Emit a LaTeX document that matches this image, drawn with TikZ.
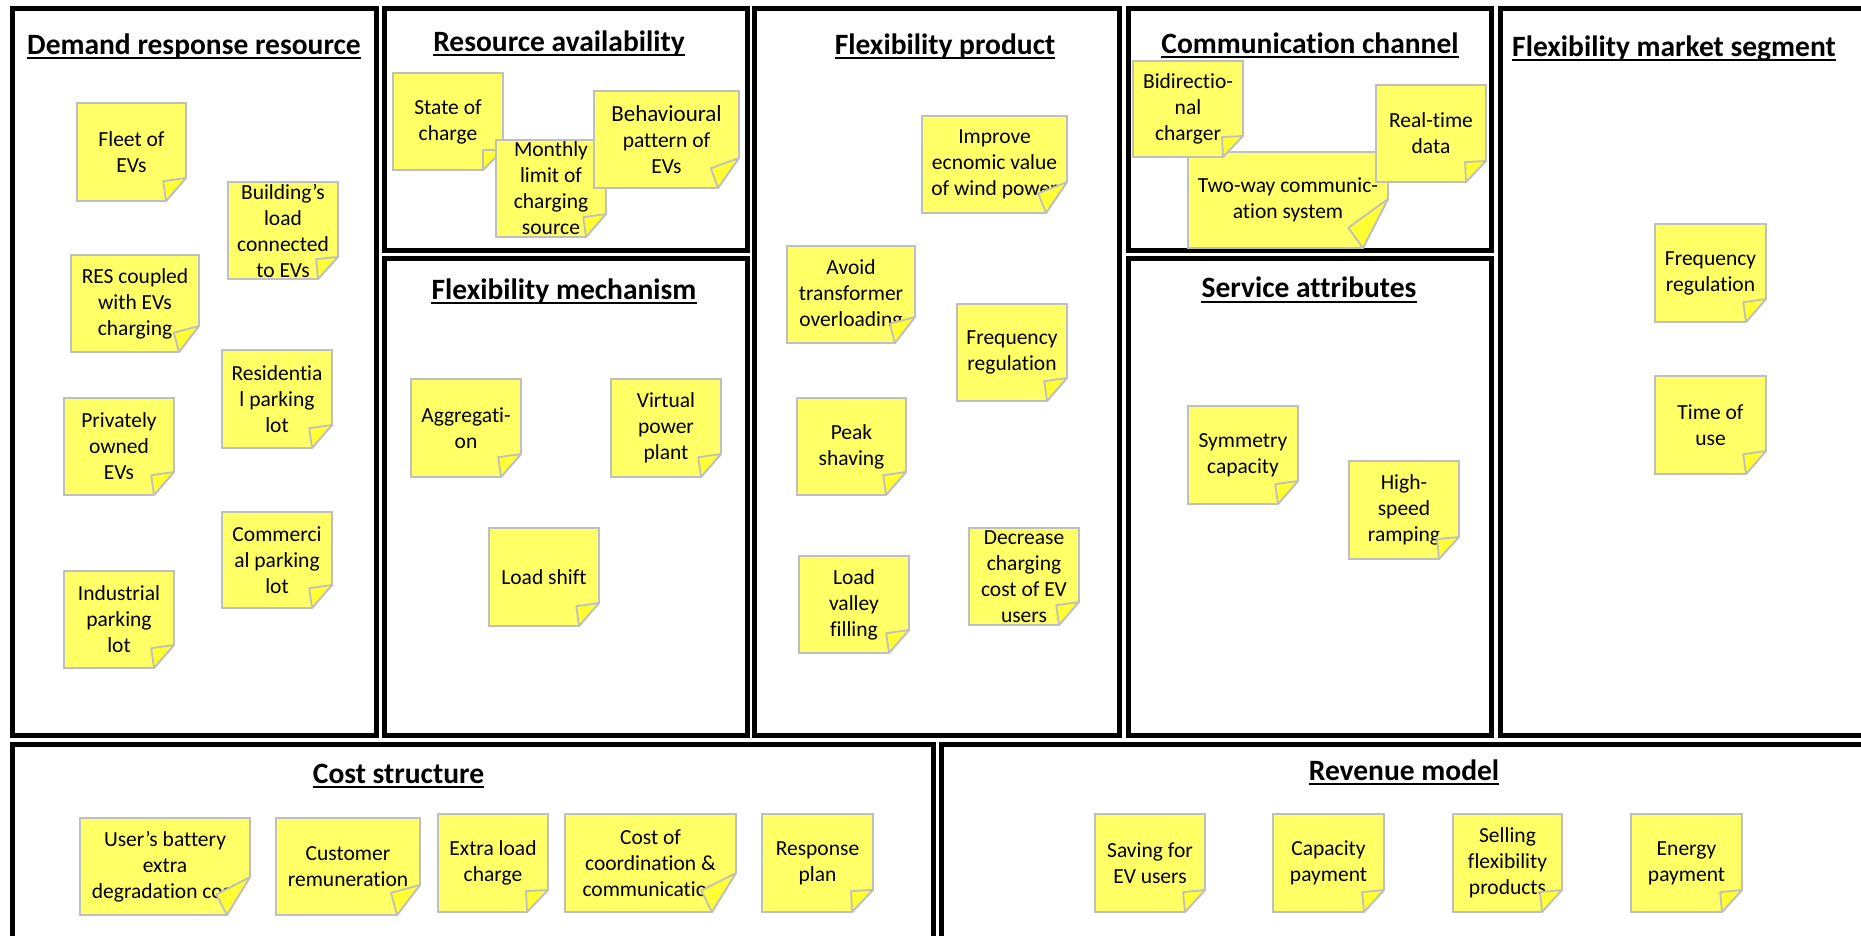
\documentclass[tikz,border=0pt]{standalone}
\usepackage{fontspec}
\setmainfont{Carlito}[Ligatures={TeX,NoCommon}]
\usepackage{tikz}
\usetikzlibrary{calc}
\definecolor{notey}{RGB}{255,255,102}
\definecolor{foldy}{RGB}{255,255,51}
\definecolor{notegray}{RGB}{191,191,191}
\newcommand{\notefont}{\fontsize{21.5}{26}\selectfont}
\newcommand{\titlefont}{\fontsize{29.5}{35}\selectfont\bfseries}
\tikzset{
  panel/.style={draw=black, line width=5pt},
  heading/.style={anchor=base, inner sep=0pt, font=\titlefont},
  uline/.style={line width=2pt},
  notebody/.style={fill=notey, draw=notegray, line width=1.8pt},
  notefold/.style={fill=foldy, draw=notegray, line width=1.8pt, line join=round},
  note/.style={align=center, inner sep=0pt, font=\notefont},
}
\def\postitfold#1/#2\relax{\def\fx{#1}\def\fy{#2}}
% sticky note: [fold x/y]{name}{left}{top}{width}{height}{text}
\newcommand{\postit}[7][20/23]{%
  \postitfold#1\relax
  \filldraw[notebody] (#3,#4) -- ++(#5,0) -- ++(0,#6-\fy) -- ++(-\fx,\fy) -- ++(\fx-#5,0) -- cycle;
  \node[note] (#2) at (#3+#5/2,#4+#6/2) {#7};
  \coordinate (#2-a) at (#3+#5,#4+#6-\fy);
  \coordinate (#2-b) at (#3+#5-\fx,#4+#6);
  \coordinate (#2-c) at (#3+#5,#4+#6);
  \coordinate (#2-p) at ($(#2-a)!(#2-c)!(#2-b)$);
  \filldraw[notefold] (#2-a) -- (#2-b) -- ($(#2-c)!2!(#2-p)$) -- cycle;
}

\begin{document}
\begin{tikzpicture}[x=1pt, y=-1pt]
  \useasboundingbox (0,0) rectangle (1861,936);
  \clip (0,0) rectangle (1861,936);

  % panels
  \draw[panel] (12.5,8.5) rectangle (376.5,735.5);
  \draw[panel] (384,8.5) rectangle (747.5,250.5);
  \draw[panel] (384,258.5) rectangle (747.5,735.5);
  \draw[panel] (754.5,8.5) rectangle (1119,735.5);
  \draw[panel] (1128,8.5) rectangle (1491,250.5);
  \draw[panel] (1128,258.5) rectangle (1491,735.5);
  \draw[panel] (1500.5,8.5) rectangle (1900,735.5);
  \draw[panel] (12.5,744.5) rectangle (933,1000);
  \draw[panel] (941.5,744.5) rectangle (1900,1000);

  \node[heading] (tA) at (194,55) {Demand response resource};
  \node[heading] (tB) at (559,52) {Resource availability};
  \node[heading] (tC) at (564,299) {Flexibility mechanism};
  \node[heading] (tD) at (945,55) {Flexibility product};
  \node[heading] (tE) at (1310,54) {Communication channel};
  \node[heading] (tF) at (1309,298) {Service attributes};
  \node[heading] (tG) at (1674,57) {Flexibility market segment};
  \node[heading] (tH) at (398.5,783) {Cost structure};
  \node[heading] (tI) at (1404,780) {Revenue model};
  \foreach \t in {tA,tB,tC,tD,tE,tF,tG,tH,tI}
    \draw[uline] ([yshift=-3.5pt]\t.base west) -- ([yshift=-3.5pt]\t.base east);

  % demand response resource
  \postit{fleet}{77}{103}{109}{98}{Fleet of\\EVs}
  \postit[20/22]{building}{228}{182}{110}{97}{Building's\\load\\connected\\to EVs}
  \postit[20/26]{res}{71}{255}{128}{97}{RES coupled\\with EVs\\charging}
  \postit{resid}{222}{350}{110}{98}{Residentia\\l parking\\lot}
  \postit{priv}{64}{398}{110}{97}{Privately\\owned\\EVs}
  \postit{comm}{222}{512}{110}{96}{Commerci\\al parking\\lot}
  \postit{indu}{64}{571}{110}{97}{Industrial\\parking\\lot}

  % resource availability
  \postit[20/20]{soc}{393}{73}{110}{97}{State of\\charge}
  \postit{monthly}{496}{140}{110}{97}{Monthly\\limit of\\charging\\source}
  \postit[21/30]{behav}{594}{91}{145}{97}{\fontsize{23}{28}\selectfont Behavioural\\pattern of\\EVs}

  % flexibility mechanism
  \postit{aggr}{411}{379}{110}{98}{Aggregati-\\on}
  \postit{vpp}{611}{379}{110}{98}{Virtual\\power\\plant}
  \postit{shift}{489}{528}{110}{98}{Load shift}

  % flexibility product
  \postit[21/31]{wind}{922}{116}{145}{97}{Improve\\ecnomic value\\of wind power}
  \postit[20/26]{trafo}{787}{246}{128}{97}{Avoid\\transformer\\overloading}
  \postit{freqD}{957}{304}{110}{97}{Frequency\\regulation}
  \postit{peak}{797}{398}{109}{97}{Peak\\shaving}
  \postit{valley}{799}{556}{110}{97}{Load\\valley\\filling}
  \postit{decr}{969}{528}{110}{97}{Decrease\\charging\\cost of EV\\users}

  % communication channel
  \postit[25/49]{twoway}{1188}{152}{200}{96}{Two-way communic-\\ation system}
  \postit[20/21]{bidir}{1133}{61}{110}{96}{Bidirectio-\\nal\\charger}
  \postit[20/21]{rtdata}{1376}{85}{110}{97}{Real-time\\data}

  % service attributes
  \postit{symm}{1188}{406}{110}{98}{Symmetry\\capacity}
  \postit[20/22]{ramp}{1349}{461}{110}{98}{High-\\speed\\ramping}

  % flexibility market segment
  \postit{freqG}{1655}{224}{111}{98}{Frequency\\regulation}
  \postit{tou}{1655}{376}{111}{98}{Time of\\use}

  % cost structure
  \postit[23/38]{battery}{80}{818}{170}{97}{User's battery\\extra\\degradation cost}
  \postit[23/30]{remun}{276}{818}{144}{97}{Customer\\remuneration}
  \postit[21/22]{extra}{438}{814}{110}{98}{Extra load\\charge}
  \postit[24/39]{coord}{565}{814}{171}{98}{Cost of\\coordination \&\\communication}
  \postit[21/22]{resp}{762}{814}{111}{98}{Response\\plan}

  % revenue model
  \postit[20/22]{saving}{1095}{814}{110}{98}{Saving for\\EV users}
  \postit[20/22]{capac}{1273}{814}{111}{98}{Capacity\\payment}
  \postit[20/22]{selling}{1453}{814}{109}{98}{Selling\\flexibility\\products}
  \postit[20/22]{energy}{1631}{814}{111}{98}{Energy\\payment}
\end{tikzpicture}
\end{document}
